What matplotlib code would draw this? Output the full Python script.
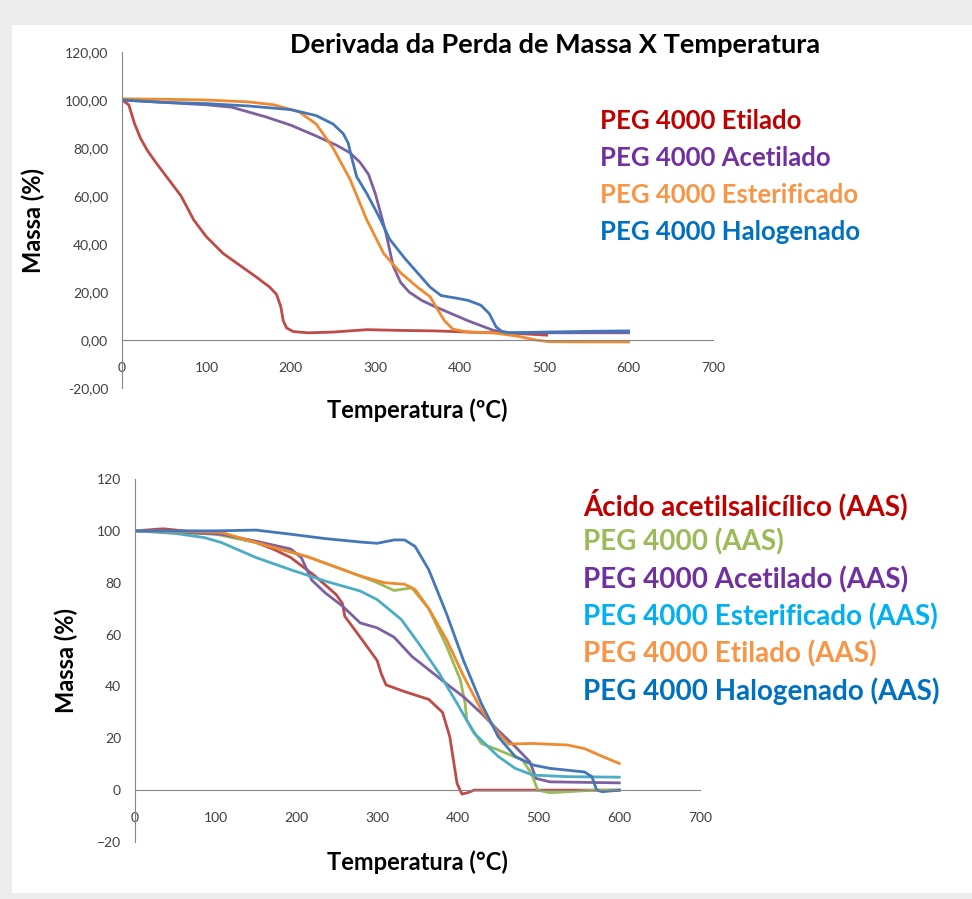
import numpy as np
import matplotlib
matplotlib.use('Agg')
import matplotlib.pyplot as plt
from matplotlib.ticker import FuncFormatter
from matplotlib.patches import Rectangle

plt.rcParams['font.family'] = ['Lato', 'DejaVu Sans']

# Grafico superior: PEG 4000 modificado
t_etil = [0, 8, 15, 22, 30, 40, 55, 70, 85, 100, 120, 140, 160, 175, 183, 188, 191, 195, 203, 220, 250, 290, 330, 370, 420, 470, 503]
m_etil = [100, 98, 90, 84, 79, 74, 67, 60, 50, 43, 36, 31, 26, 22, 19, 14, 8, 5, 3.5, 3, 3.3, 4.3, 4, 3.8, 3.2, 2.7, 2]
t_acet = [0, 50, 100, 130, 170, 200, 230, 255, 270, 282, 292, 300, 307, 313, 321, 330, 340, 355, 370, 390, 410, 425, 440, 460, 500, 550, 600]
m_acet = [100, 99, 98, 97, 93, 89.5, 85, 81, 78, 74, 69, 61, 52, 44, 31, 24, 20, 16.5, 14, 11, 8, 6, 4, 3, 3, 3, 3]
t_este = [0, 50, 100, 150, 180, 210, 230, 250, 270, 290, 310, 330, 350, 365, 375, 382, 392, 410, 440, 470, 490, 505, 550, 600]
m_este = [100.5, 100.3, 100, 99.2, 98, 95, 90, 80, 67, 50, 36, 28, 22, 18, 12, 8, 4.5, 3.3, 3, 1.5, 0, -0.7, -0.8, -0.8]
t_halo = [0, 50, 100, 150, 200, 230, 250, 262, 268, 272, 278, 290, 305, 317, 335, 350, 365, 378, 395, 410, 425, 435, 443, 450, 458, 500, 550, 600]
m_halo = [100, 99, 98.5, 97.5, 96, 93.5, 90, 86, 82, 76, 68, 61, 51, 42, 34, 28, 22, 18.5, 17.5, 16.5, 14.5, 11, 5.5, 3.5, 3, 3.3, 3.6, 3.8]

# Grafico inferior: amostras com AAS
t_aas = [0, 35, 60, 107, 150, 171, 193, 223, 249, 257, 260, 279, 300, 305, 311, 334, 364, 381, 390, 399, 405, 412, 420, 500, 600]
m_aas = [100, 100.8, 100, 98.7, 95.5, 93, 89.7, 82.6, 75.5, 72, 67, 59, 50, 45, 40.6, 38, 35, 30, 20.6, 2.6, -1.5, -1, 0, 0, 0]
t_peg = [0, 50, 100, 150, 214, 279, 300, 321, 343, 364, 386, 403, 409, 411, 429, 450, 480, 491, 499, 514, 536, 570, 600]
m_peg = [100, 99.5, 98.7, 95.5, 90, 82.6, 80, 77, 78, 70, 55.5, 42.6, 33.5, 27, 18, 15.5, 11.6, 6.5, 0, -1, -0.6, 0, 0]
t_acet2 = [0, 50, 107, 150, 193, 206, 219, 236, 257, 279, 300, 321, 343, 386, 407, 429, 450, 471, 489, 497, 514, 600]
m_acet2 = [100, 99.5, 98.7, 96, 93, 89.7, 81, 76, 71, 64.5, 62.6, 59, 51.6, 41, 36, 29.7, 23, 16.8, 11, 4.5, 3.2, 2.8]
t_este2 = [0, 50, 86, 107, 150, 193, 236, 279, 300, 330, 351, 377, 399, 420, 450, 471, 493, 536, 600]
m_este2 = [100, 99, 97.4, 95.5, 89.7, 85, 80.6, 76.8, 73.5, 65.8, 56.8, 45, 33.5, 22, 13, 8.4, 5.8, 5.2, 5]
t_etil2 = [0, 50, 107, 150, 214, 279, 309, 334, 347, 364, 386, 407, 429, 450, 463, 493, 536, 557, 579, 600]
m_etil2 = [100, 99.8, 99.4, 95.5, 90, 82.6, 80, 79.4, 77.4, 70, 58, 44, 31, 22, 17.8, 18, 17.4, 16, 13, 10.3]
t_halo2 = [0, 50, 100, 150, 193, 236, 279, 300, 321, 334, 347, 364, 386, 407, 429, 450, 471, 493, 514, 557, 566, 572, 579, 600]
m_halo2 = [100, 100, 100, 100.3, 98.7, 97, 95.7, 95.2, 96.5, 96.5, 94, 85, 68, 50, 33.5, 20.6, 13, 9.7, 8.4, 7, 5.2, 0, -0.6, 0]

nomes_sup = ['PEG 4000 Etilado', 'PEG 4000 Acetilado', 'PEG 4000 Esterificado', 'PEG 4000 Halogenado']
nomes_inf = ['Ácido acetilsalicílico (AAS)', 'PEG 4000 (AAS)', 'PEG 4000 Acetilado (AAS)',
             'PEG 4000 Esterificado (AAS)', 'PEG 4000 Etilado (AAS)', 'PEG 4000 Halogenado (AAS)']

fig = plt.figure(figsize=(9.72, 8.99), dpi=100, facecolor='#ececec')
fig.patches.append(Rectangle((12/972, 1-893/899), 1, (893-25)/899, transform=fig.transFigure,
                             facecolor='white', edgecolor='none', zorder=-1))

def eixo(ax, decimais):
    ax.set_facecolor('none')
    for s in ['top', 'right']:
        ax.spines[s].set_visible(False)
    ax.spines['left'].set_color('#868686')
    ax.spines['bottom'].set_color('#868686')
    ax.spines['bottom'].set_position(('data', 0))
    ax.set_xlim(0, 700)
    ax.set_ylim(-20, 120)
    ax.set_xticks(range(0, 701, 100))
    ax.set_yticks(range(-20, 121, 20))
    if decimais:
        ax.yaxis.set_major_formatter(FuncFormatter(lambda v, p: ('%.2f' % v).replace('.', ',')))
    ax.tick_params(axis='both', length=0, labelsize=10, colors='#404040')
    ax.tick_params(axis='x', pad=16)
    ax.tick_params(axis='y', pad=10)
    ax.set_ylabel('Massa (%)', fontsize=17, fontweight='bold')

cores_sup = ['#be4b48', '#7d60a0', '#f08a2f', '#4377b9']
cores_txt_sup = ['#c00000', '#7030a0', '#f79646', '#0070c0']

ax1 = fig.add_axes([122/972, 1-388/899, 591/972, 336/899])
eixo(ax1, True)
ax1.plot(t_etil, m_etil, color=cores_sup[0], lw=2)
ax1.plot(t_acet, m_acet, color=cores_sup[1], lw=2)
ax1.plot(t_este, m_este, color=cores_sup[2], lw=2)
ax1.plot(t_halo, m_halo, color=cores_sup[3], lw=2)
ax1.set_xlabel('Temperatura (ºC)', fontsize=17, fontweight='bold')
ax1.xaxis.set_label_coords(0.5, -0.03)
ax1.yaxis.set_label_coords(-0.130, 0.5)
fig.text(555/972, 1-45/899, 'Derivada da Perda de Massa X Temperatura', ha='center', va='center',
         fontsize=19.5, fontweight='bold')
for i, n in enumerate(nomes_sup):
    fig.text(600/972, 1-(121+37*i)/899, n, color=cores_txt_sup[i], fontsize=18.5, fontweight='bold', va='center')

cores_inf = ['#be4b48', '#9bbb59', '#7d60a0', '#4bacc6', '#f08a2f', '#4377b9']
cores_txt_inf = ['#c00000', '#9bbb59', '#7030a0', '#00b0f0', '#f79646', '#0070c0']

ax2 = fig.add_axes([135/972, 1-842/899, 565/972, 363/899])
eixo(ax2, False)
ax2.plot(t_aas, m_aas, color=cores_inf[0], lw=2)
ax2.plot(t_peg, m_peg, color=cores_inf[1], lw=2)
ax2.plot(t_acet2, m_acet2, color=cores_inf[2], lw=2)
ax2.plot(t_este2, m_este2, color=cores_inf[3], lw=2)
ax2.plot(t_etil2, m_etil2, color=cores_inf[4], lw=2)
ax2.plot(t_halo2, m_halo2, color=cores_inf[5], lw=2)
ax2.set_xlabel('Temperatura (°C)', fontsize=17, fontweight='bold')
ax2.xaxis.set_label_coords(0.5, -0.022)
ax2.yaxis.set_label_coords(-0.101, 0.5)
for i, n in enumerate(nomes_inf):
    fig.text(583/972, 1-(505+37.3*i)/899, n, color=cores_txt_inf[i], fontsize=20, fontweight='bold', va='center')

fig.savefig('out.png', dpi=100, facecolor=fig.get_facecolor())
